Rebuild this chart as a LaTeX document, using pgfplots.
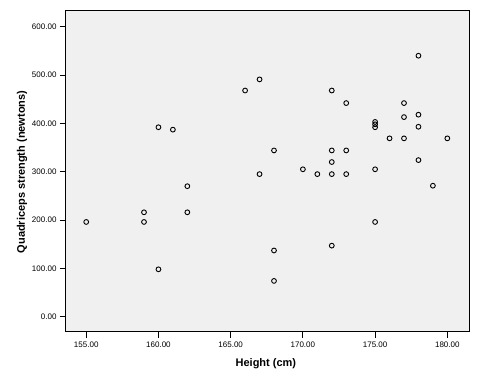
\documentclass[border=0pt]{standalone}
\usepackage{pgfplots}
\pgfplotsset{compat=1.18}
\usepackage{fontspec}
\setmainfont{Liberation Sans}
\definecolor{bggray}{HTML}{F0F0F0}
\begin{document}
\begin{tikzpicture}
\begin{axis}[
  at={(0,0)}, anchor=south west,
  scale only axis, width=403pt, height=322pt,
  xmin=153.6, xmax=181.5, ymin=-31.7, ymax=634.6,
  xtick={155,160,165,170,175,180},
  ytick={0,100,200,300,400,500,600},
  axis background/.style={fill=bggray},
  axis line style={line width=1pt},
  tick style={black, line width=0.8pt},
  tick align=outside, major tick length=6pt,
  xtick pos=bottom, ytick pos=left,
  ticklabel style={font=\fontsize{8}{9}\selectfont},
  /pgf/number format/.cd, fixed, fixed zerofill, precision=2, 1000 sep={}, assume math mode=true,
  /pgfplots/.cd,
  xlabel={Height (cm)},
  ylabel={Quadriceps strength (newtons)},
  xlabel style={font=\fontsize{11}{12}\selectfont\bfseries, at={(axis description cs:0.496,-0.0994)}, anchor=center},
  ylabel style={font=\fontsize{11}{12}\selectfont\bfseries, at={(axis description cs:-0.109,0.497)}, anchor=center},
]
\addplot[only marks, mark=o, mark size=2.4pt, mark options={line width=0.9pt, draw=black}] coordinates {
(155,196) (159,216) (159,196) (160,392) (160,98) (161,387) (162,270) (162,216)
(166,468) (167,491) (167,295) (168,344) (168,137) (168,74) (170,305) (171,295)
(172,468) (172,344) (172,320) (172,295) (172,147) (173,442) (173,344) (173,295)
(175,403) (175,398) (175,392) (175,305) (175,196) (176,369) (177,442) (177,413)
(177,369) (178,540) (178,418) (178,393) (178,324) (179,271) (180,369)
};
\end{axis}
\pgfresetboundingbox
\useasboundingbox (-66pt,-51pt) rectangle (414pt,332pt);
\end{tikzpicture}
\end{document}
